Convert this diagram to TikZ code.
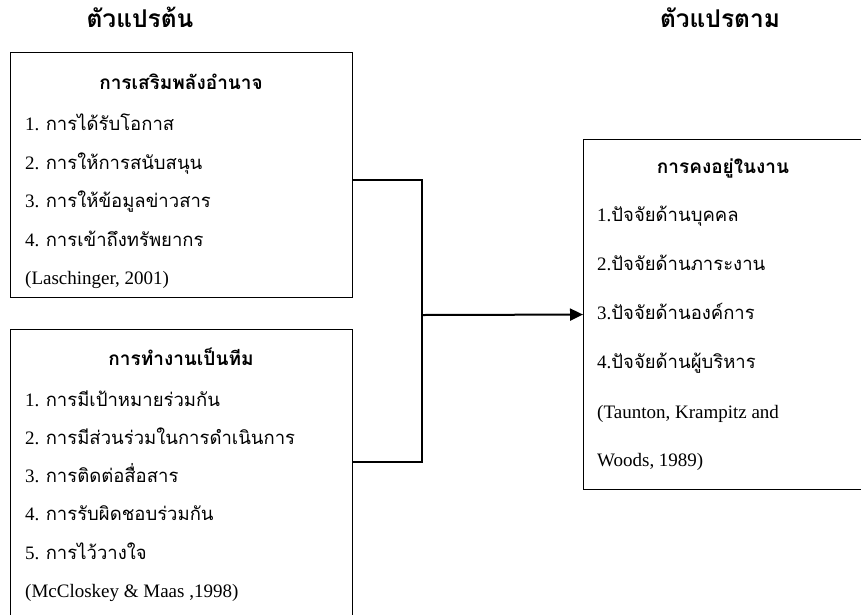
\documentclass[tikz,border=0pt]{standalone}
\usepackage{fontspec}
\setmainfont{Liberation Serif}
\newfontfamily\thai[Script=Thai]{Loma}
\usetikzlibrary{arrows.meta}
\tikzset{
  box/.style={draw, line width=1.1pt, anchor=north west, inner sep=0pt, rectangle},
  itemtext/.style={anchor=base west, inner sep=0pt, font=\fontsize{19}{22}\selectfont},
  titletext/.style={anchor=base, inner sep=0pt, font=\fontsize{19}{22}\selectfont\thai\bfseries},
  headtext/.style={anchor=base, inner sep=0pt, font=\fontsize{24.5}{28}\selectfont\thai\bfseries},
  conn/.style={line width=1.1pt},
  arrowline/.style={line width=2pt, -{Triangle[length=13pt,width=12pt]}}
}
\newcommand{\thtxt}[1]{{\thai\fontsize{18.5}{22}\selectfont #1}}
\begin{document}
\begin{tikzpicture}[x=1pt,y=-1pt]
\clip (0,0) rectangle (861,614);
\fill[white] (0,0) rectangle (861,614);
% headings
\node[headtext] (h1) at (140,27) {ตัวแปรต้น};
\node[headtext] (h2) at (720,27) {ตัวแปรตาม};
% boxes
\node[box, minimum width=342pt, minimum height=245pt] (b1) at (10,52) {};
\node[box, minimum width=342pt, minimum height=295pt] (b2) at (10,329) {};
\node[box, minimum width=279pt, minimum height=350pt] (b3) at (583,139) {};
% box 1 text
\node[titletext] (t1) at (181,89) {การเสริมพลังอำนาจ};
\node[itemtext] (a1) at (25,130) {1. \thtxt{การได้รับโอกาส}};
\node[itemtext] (a2) at (25,169) {2. \thtxt{การให้การสนับสนุน}};
\node[itemtext] (a3) at (25,207) {3. \thtxt{การให้ข้อมูลข่าวสาร}};
\node[itemtext] (a4) at (25,246) {4. \thtxt{การเข้าถึงทรัพยากร}};
\node[itemtext] (a5) at (25,284) {(Laschinger, 2001)};
% box 2 text
\node[titletext] (t2) at (181,365) {การทำงานเป็นทีม};
\node[itemtext] (c1) at (25,406) {1. \thtxt{การมีเป้าหมายร่วมกัน}};
\node[itemtext] (c2) at (25,444) {2. \thtxt{การมีส่วนร่วมในการดำเนินการ}};
\node[itemtext] (c3) at (25,482) {3. \thtxt{การติดต่อสื่อสาร}};
\node[itemtext] (c4) at (25,520) {4. \thtxt{การรับผิดชอบร่วมกัน}};
\node[itemtext] (c5) at (25,559) {5. \thtxt{การไว้วางใจ}};
\node[itemtext] (c6) at (25,597) {(McCloskey \& Maas ,1998)};
% box 3 text
\node[titletext] (t3) at (723,173) {การคงอยู่ในงาน};
\node[itemtext] (d1) at (597,221) {1.\thtxt{ปัจจัยด้านบุคคล}};
\node[itemtext] (d2) at (597,270) {2.\thtxt{ปัจจัยด้านภาระงาน}};
\node[itemtext] (d3) at (597,319) {3.\thtxt{ปัจจัยด้านองค์การ}};
\node[itemtext] (d4) at (597,368) {4.\thtxt{ปัจจัยด้านผู้บริหาร}};
\node[itemtext] (d5) at (597,418) {(Taunton, Krampitz and};
\node[itemtext] (d6) at (597,466) {Woods, 1989)};
% connectors
\coordinate (p1) at (b1.north east |- 0,180);
\coordinate (p2) at (b2.north east |- 0,462);
\coordinate (j) at (422,315);
\draw[conn] (p1) -| (j) |- (p2);
\draw[arrowline] (j) -- (b3.west);
\end{tikzpicture}
\end{document}
